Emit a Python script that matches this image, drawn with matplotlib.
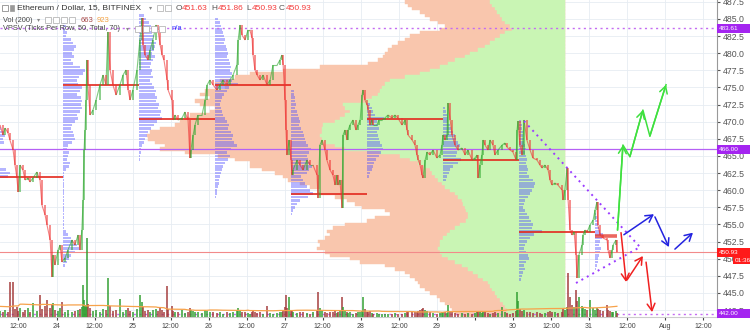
import matplotlib
matplotlib.use('Agg')
import matplotlib.pyplot as plt
import numpy as np
import pandas as pd
from matplotlib.patches import Rectangle
from matplotlib.collections import LineCollection

plt.rcParams['font.family'] = ['Liberation Sans', 'DejaVu Sans']

# ---------------- data (x = hours since 23 Jul 00:00) ----------------
bar_hours = [
    6.2, 7.1, 7.8, 8.7, 9.3, 10.3, 10.9, 11.5, 11.9, 12.5,
    13.4, 14.1, 15.0, 15.6, 16.6, 17.8, 18.8, 19.4, 20.4, 21.0,
    22.0, 22.6, 22.9, 23.5, 24.5, 25.1, 25.7, 26.7, 27.6, 28.9,
    29.8, 30.8, 31.4, 32.0, 32.4, 32.7, 33.0, 33.3, 33.6, 33.9,
    34.6, 35.5, 36.5, 37.7, 38.7, 39.6, 40.2, 40.9, 41.8, 42.8,
    44.0, 45.0, 45.9, 46.6, 47.2, 48.1, 49.4, 50.3, 51.0, 51.3,
    51.9, 52.9, 53.5, 54.4, 55.4, 56.0, 56.7, 57.3, 57.9, 58.9,
    59.2, 60.4, 60.8, 61.4, 62.3, 63.6, 64.5, 65.5, 66.1, 66.4,
    67.1, 67.7, 68.6, 69.9, 70.9, 71.5, 72.4, 73.4, 74.6, 75.6,
    76.5, 77.8, 78.7, 79.7, 80.9, 81.3, 81.9, 82.5, 83.5, 84.4,
    85.0, 85.7, 86.0, 86.6, 87.3, 88.2, 89.2, 90.4, 91.4, 92.3,
    93.6, 94.5, 95.1, 95.5, 96.1, 96.4, 96.7, 97.4, 98.0, 98.3,
    98.6, 99.9, 100.8, 101.8, 103.0, 104.0, 104.9, 106.2, 106.5, 107.1,
    107.8, 108.7, 109.3, 110.3, 111.2, 111.9, 112.5, 112.8, 113.4, 114.1,
    114.4, 115.0, 115.7, 116.0, 116.6, 117.5, 118.5, 119.1, 119.8, 120.4,
    120.7, 121.3, 122.0, 122.3, 122.9, 123.5, 123.9, 125.1, 125.7, 126.7,
    127.6, 128.6, 129.8, 130.8, 131.7, 133.0, 134.0, 134.6, 134.9, 136.2,
    137.1, 137.7, 138.1, 138.7, 139.3, 139.6, 140.3, 140.9, 141.8, 142.8,
    144.0, 145.0, 145.6, 145.9, 146.6, 147.2, 147.5, 148.2, 148.8, 149.7,
    150.7, 151.9, 152.9, 153.8, 155.1, 156.0, 156.7, 157.0, 157.6, 158.2,
    158.6, 159.2, 160.1, 160.8, 161.7, 162.3, 163.3, 164.6, 165.5, 166.1,
    167.1, 168.0, 169.0, 169.3, 169.6, 170.2, 170.9, 171.5, 172.4, 173.4,
    174.3, 175.6, 176.5, 177.2, 178.1, 179.1, 179.7, 180.3, 181.3, 182.2,
    183.5, 183.8, 184.4, 185.1, 185.4, 186.0, 186.6, 187.3, 187.9, 188.2,
    188.8, 189.8, 190.1, 190.7, 191.4, 192.3, 193.3, 193.9, 194.5, 194.8,
    195.5, 196.4, 197.7, 198.0, 198.6, 199.3, 199.6, 200.5, 200.8,
]
closes = [
    469.52, 468.06, 469.08, 468.35, 467.33, 465.87, 463.68, 461.78, 459.74, 463.68,
    462.95, 461.49, 461.78, 461.20, 461.78, 462.66, 461.49, 457.84, 456.38, 454.92,
    452.73, 447.33, 450.54, 449.08, 451.27, 452.00, 449.52, 450.10, 451.27, 452.73,
    452.00, 453.46, 451.27, 454.19, 458.57, 465.87, 468.79, 473.17, 479.01, 475.36,
    470.98, 471.71, 473.17, 475.36, 476.82, 475.36, 483.10, 477.55, 475.36, 473.90,
    475.36, 476.82, 477.55, 474.63, 473.17, 474.63, 477.55, 481.93, 485.14, 481.20,
    479.74, 479.01, 480.47, 481.93, 484.12, 483.39, 481.20, 479.74, 479.01, 476.09,
    474.63, 473.17, 470.25, 470.98, 470.25, 470.54, 471.42, 470.25, 464.70, 465.87,
    468.06, 469.52, 470.98, 470.98, 473.17, 475.36, 476.09, 475.36, 474.63, 475.36,
    476.09, 475.36, 476.09, 476.82, 478.28, 481.93, 484.12, 482.66, 481.93, 483.39,
    483.39, 482.22, 479.74, 477.55, 476.82, 476.09, 476.82, 475.36, 476.09, 478.28,
    478.28, 479.01, 479.74, 478.28, 473.17, 468.79, 465.14, 467.33, 464.41, 462.22,
    462.95, 464.41, 463.68, 462.95, 464.41, 463.68, 463.68, 462.22, 458.86, 466.60,
    467.33, 465.87, 464.41, 462.95, 462.22, 460.76, 462.22, 460.76, 461.49, 457.40,
    468.06, 468.79, 467.33, 468.79, 469.52, 470.25, 468.79, 469.52, 470.25, 473.90,
    474.63, 473.17, 472.44, 471.71, 469.52, 470.25, 469.52, 469.52, 470.25, 470.25,
    470.54, 470.98, 470.54, 470.98, 470.54, 469.52, 470.25, 468.79, 468.06, 467.33,
    466.60, 465.14, 464.41, 463.68, 462.22, 461.78, 464.41, 465.58, 465.14, 465.87,
    464.70, 465.14, 466.60, 468.06, 467.33, 468.06, 472.73, 470.25, 468.06, 466.60,
    465.87, 466.16, 465.14, 465.87, 464.41, 464.70, 465.14, 461.78, 463.68, 465.14,
    467.33, 466.60, 465.87, 467.33, 466.60, 465.14, 465.87, 466.60, 466.89, 466.30,
    465.87, 465.58, 464.41, 468.79, 470.10, 466.60, 465.14, 470.25, 467.33, 465.87,
    464.70, 464.41, 463.68, 463.24, 463.68, 462.95, 461.49, 460.76, 461.05, 460.76,
    460.03, 458.57, 460.03, 463.24, 458.57, 454.19, 453.46, 453.90, 450.54, 447.18,
    450.54, 452.00, 453.46, 454.19, 453.90, 454.92, 455.65, 457.11, 458.28, 454.92,
    453.46, 453.02, 452.73, 451.27, 450.10, 451.27, 452.00, 452.73, 450.93,
]
volumes = [
    900, 700, 1100, 800, 5250, 5250, 1200, 1500, 900, 1300,
    800, 1000, 1350, 700, 2100, 900, 3300, 1200, 1600, 2550,
    1400, 1800, 2100, 1100, 900, 1300, 2250, 800, 1000, 700,
    900, 1100, 1200, 1500, 4800, 2500, 1800, 1600, 11850, 2000,
    1300, 900, 1100, 800, 1200, 1000, 5850, 1700, 900, 1100,
    2700, 800, 1000, 1300, 900, 700, 1200, 3300, 2200, 1500,
    900, 1000, 800, 1100, 1200, 900, 1300, 1000, 800, 4650,
    1200, 1650, 900, 800, 700, 1000, 600, 800, 1400, 1100,
    900, 700, 800, 600, 1000, 900, 700, 800, 600, 700,
    500, 800, 600, 700, 900, 1350, 1100, 800, 700, 600,
    500, 700, 900, 800, 600, 700, 500, 1650, 600, 500,
    600, 700, 800, 900, 1500, 3300, 1400, 3000, 1000, 900,
    700, 600, 800, 700, 600, 500, 700, 900, 3750, 1400,
    1000, 700, 600, 800, 700, 900, 600, 800, 900, 3000,
    1500, 900, 700, 600, 700, 500, 600, 700, 800, 900,
    3000, 1200, 800, 700, 900, 600, 500, 600, 500, 400,
    500, 400, 500, 600, 400, 500, 600, 700, 800, 900,
    700, 800, 900, 1000, 1200, 1300, 1100, 900, 700, 600,
    500, 600, 700, 800, 700, 600, 1800, 900, 700, 600,
    500, 600, 500, 600, 500, 600, 700, 900, 700, 600,
    800, 700, 600, 500, 600, 700, 600, 1500, 700, 600,
    500, 600, 900, 3750, 2400, 1200, 900, 1100, 800, 700,
    600, 700, 600, 500, 600, 700, 900, 800, 700, 600,
    800, 1200, 1000, 1500, 6600, 3000, 1800, 1500, 4050, 2400,
    3000, 1700, 1400, 1200, 1000, 2550, 1300, 1100, 1400, 1200,
    1000, 900, 1800, 1100, 900, 800, 700, 900, 663,
]

# visible range volume profile: rows of 0.5 from 487.5 down to 441.5
vp_total = [
    160, 157, 153, 145, 140, 135, 127, 120, 125, 145,
    155, 160, 167, 173, 177, 180, 182, 187, 197, 245,
    282, 315, 330, 345, 350, 340, 360, 365, 355, 370,
    365, 350, 355, 375, 380, 385, 390, 405, 415, 418,
    417, 410, 400, 405, 380, 347, 330, 315, 315, 303,
    290, 282, 277, 265, 255, 245, 247, 230, 218, 210,
    203, 180, 175, 190, 198, 220, 232, 238, 235, 240,
    247, 245, 248, 240, 235, 215, 205, 180, 170, 160,
    155, 150, 147, 145, 140, 135, 128, 125, 120, 115,
    113, 110, 105,
]
vp_up = [
    75, 73, 70, 68, 65, 63, 60, 55, 53, 60,
    65, 70, 75, 80, 87, 95, 100, 110, 117, 125,
    135, 145, 160, 175, 180, 183, 185, 187, 193, 200,
    222, 220, 215, 220, 225, 230, 242, 243, 243, 245,
    243, 240, 230, 220, 185, 165, 155, 147, 140, 135,
    133, 130, 127, 123, 120, 115, 110, 107, 103, 102,
    100, 99, 97, 97, 99, 105, 110, 115, 118, 122,
    125, 125, 127, 125, 123, 117, 110, 103, 97, 92,
    87, 82, 77, 75, 73, 70, 68, 65, 62, 60,
    58, 57, 55,
]
vp_anchor = 184.4

# session volume profiles (VPSV), rows of 0.5 from the top price downwards
sess_starts = [2, 26, 50, 74, 98, 122, 146, 170, 194]
sess_tops = [474.5, 484.5, 485.5, 485.0, 474.5, 472.5, 472.0, 470.0, 456.5]
sess_poc = [461.9, 475.4, 470.4, 475.4, 459.4, 470.4, 464.4, 453.9, 453.3]
sess_a = [3, 5, 7, 8, 6, 8, 10, 9, 11, 12, 10, 14, 17, 18, 16, 17, 12, 10, 9, 11,
          12, 10, 11, 19, 23, 21, 8, 5, 3, 2]
sess_b = [2, 3, 2, 4, 3, 8, 10, 13, 11, 9, 11, 8, 10, 17, 22, 20, 16, 14, 15, 19,
          17, 14, 18, 19, 18, 19, 17, 14, 15, 12, 9, 8, 10, 11, 12, 9, 5, 4, 6, 5,
          4, 7, 6, 3, 1, 1, 1, 1, 1, 1, 1, 1, 1, 1, 1, 1, 1, 1, 1, 1,
          1, 3, 5, 8, 10, 14, 16, 12, 8, 6, 4, 2]
sess_c = [5, 7, 10, 12, 11, 13, 15, 14, 17, 16, 15, 13, 16, 14, 12, 11, 13, 12, 14, 11,
          13, 15, 17, 16, 18, 17, 20, 19, 22, 21, 23, 18, 15, 12, 9, 8, 6, 5, 3, 2,
          2, 1, 1]
sess_d = [3, 5, 6, 7, 8, 9, 10, 9, 11, 12, 13, 12, 14, 15, 16, 15, 17, 16, 17, 23,
          14, 12, 9, 7, 6, 5, 6, 7, 8, 10, 12, 14, 13, 16, 18, 17, 19, 22, 16, 12,
          15, 13, 10, 8, 7, 6, 5, 4, 4, 3, 2, 2, 1]
sess_e = [3, 3, 4, 4, 5, 4, 6, 7, 8, 9, 8, 10, 12, 13, 14, 15, 17, 20, 18, 16,
          17, 19, 21, 18, 16, 10, 12, 14, 16, 19, 22, 17, 9, 6, 4, 2, 1]
sess_f = [3, 5, 6, 8, 17, 10, 11, 12, 10, 11, 12, 13, 15, 16, 14, 12, 9, 7, 6, 5, 3, 2]
sess_g = [2, 3, 4, 5, 5, 7, 8, 10, 12, 13, 15, 17, 16, 14, 13, 18, 15, 10, 7, 6, 4, 3]
sess_h = [2, 3, 3, 4, 4, 5, 5, 6, 7, 6, 7, 8, 7, 8, 9, 8, 10, 14, 16, 15,
          13, 11, 9, 6, 5, 4, 6, 8, 10, 12, 14, 13, 23, 15, 11, 8, 6, 5, 7, 9,
          10, 7, 5, 6, 4, 3, 2]
sess_i = [1, 2, 3, 3, 4, 5, 8, 7, 5, 4, 6, 5, 4, 3, 3, 2, 1]
sess_widths = [sess_a, sess_b, sess_c, sess_d, sess_e, sess_f, sess_g, sess_h, sess_i]

# drawings
tri_upper_h = [171.5, 208.1]
tri_upper_p = [470.1, 451.7]
tri_lower_h = [187.9, 208.1]
tri_lower_p = [446.45, 451.7]
green_h = [201.0, 202.7, 204.9, 209.0, 211.2, 216.3]
green_p = [454.2, 466.6, 464.9, 471.7, 467.9, 475.4]
blue_arrows = [((203.0, 453.5), (212.5, 456.5)),
               ((212.8, 456.1), (217.2, 451.7)),
               ((219.1, 451.4), (224.8, 453.8))]
red_arrows = [((202.1, 453.8), (203.7, 446.6)),
              ((204.0, 446.9), (209.0, 450.4)),
              ((210.0, 449.5), (211.9, 442.2))]

tick_hours = [12, 24, 36, 48, 60, 72, 84, 96, 108, 120, 132, 144, 156, 168, 180,
              192, 204, 216, 228]
tick_labels = ['12:00', '24', '12:00', '25', '12:00', '26', '12:00', '27', '12:00',
               '28', '12:00', '29', '', '30', '12:00', '31', '12:00', 'Aug', '12:00']
price_ticks = [442.5, 445.0, 447.5, 450.0, 452.5, 455.0, 457.5, 460.0, 462.5, 465.0,
               467.5, 470.0, 472.5, 475.0, 477.5, 480.0, 482.5, 485.0, 487.5]

last_price = 450.93
# ----------------------------------------------------------------------

W, H = 750, 331
fig = plt.figure(figsize=(7.5, 3.31), dpi=100)
ax = fig.add_axes([0, (H - 317) / H, 717 / W, 317 / H])
# volume pane shares the time axis (created first, twinx moves ticks left)
axv = ax.twinx()
ax.set_xlim(6.17, 232.38)
ax.set_ylim(441.49, 487.77)

scale = 0.3155  # hours per volume unit of the profiles

# visible range profile
rows = np.arange(487.5, 441.4, -0.5)
ax.barh(rows, -np.array(vp_total) * scale, left=vp_anchor, height=0.5,
        color='#f9c6ad', edgecolor='#f9c6ad', lw=0.3, zorder=1)
ax.barh(rows, -np.array(vp_up) * scale, left=vp_anchor, height=0.5,
        color='#c9f5b4', edgecolor='#c9f5b4', lw=0.3, zorder=1.1)

# session profiles + POC lines
sess_ends = sess_starts[1:] + [bar_hours[-1]]
for start, top, widths in zip(sess_starts, sess_tops, sess_widths):
    prices = top - 0.5 * np.arange(len(widths))
    ax.barh(prices, np.array(widths) * scale, left=start, height=0.38,
            color='#4f4fff', alpha=0.42, lw=0, zorder=2)
ax.hlines(sess_poc[:-1], sess_starts[:-1], sess_ends[:-1], color='#e3281d', lw=1.2, zorder=3)
ax.hlines(sess_poc[-1], sess_starts[-1], sess_ends[-1], color='#e3281d', lw=2.6,
          alpha=0.7, zorder=3)

# horizontal levels
ax.axhline(483.61, color='#c46cf2', lw=1, ls=(0, (1.5, 2.5)), zorder=3)
ax.axhline(466.00, color='#b560f5', lw=0.9, zorder=3)
ax.axhline(442.00, color='#c46cf2', lw=1, ls=(0, (1.5, 2.5)), zorder=3)
ax.axhline(last_price, color='#f28a8a', lw=0.8, zorder=3)

# candles (open = previous close)
t = np.array(bar_hours)
c = np.array(closes)
o = np.concatenate([[c[0]], c[:-1]])
up = c >= o
cols = np.where(up, '#2ea82e', '#ee3030')
segs = [[(t[i - 1], c[i - 1]), (t[i], c[i])] for i in range(1, len(t))]
ax.add_collection(LineCollection(segs, colors=cols[1:], lw=0.8, alpha=0.6, zorder=4))
ax.vlines(t, o, c, colors=cols, lw=1.1, alpha=0.7, zorder=4)

# triangle
ax.plot(tri_upper_h, tri_upper_p, color='#9b3cff', lw=1.4, ls=(0, (1, 2.2)), zorder=5)
ax.plot(tri_lower_h, tri_lower_p, color='#9b3cff', lw=1.4, ls=(0, (1, 2.2)), zorder=5)


def arrow(p0, p1, col):
    ax.annotate('', xy=p1, xytext=p0, zorder=6,
                arrowprops=dict(arrowstyle='->,head_length=0.5,head_width=0.28',
                                color=col, lw=1.1, shrinkA=0, shrinkB=0))


ax.plot(green_h, green_p, color='#3fe03f', lw=1.1, zorder=6)
for i in (0, 2, 4):
    arrow((green_h[i], green_p[i]), (green_h[i + 1], green_p[i + 1]), '#3fe03f')
for a, b in blue_arrows:
    arrow(a, b, '#2323e0')
for a, b in red_arrows:
    arrow(a, b, '#f02020')

# axes styling
ax.set_xticks(tick_hours)
ax.set_xticklabels(tick_labels)
ax.set_yticks(price_ticks)
ax.set_yticklabels(['%.1f' % p for p in price_ticks])
ax.yaxis.tick_right()
ax.tick_params(axis='x', labelsize=5, colors='#444', length=2, pad=2)
ax.tick_params(axis='y', labelsize=6.3, colors='#555', length=2, pad=2,
               left=False, labelleft=False, right=True, labelright=True)
ax.grid(True, color='#e7ecf2', lw=0.6)
ax.set_axisbelow(True)
for s in ('left', 'top'):
    ax.spines[s].set_visible(False)
ax.spines['right'].set_color('#999')
ax.spines['bottom'].set_color('#ccc')

# price labels on the scale
ytr = ax.get_yaxis_transform()


def scale_label(price, text, fc, x0=0.0, w=33, dy=0.0, h=1.3):
    ax.add_patch(Rectangle((1 + x0 / 717, price - h / 2 + dy), w / 717, h, transform=ytr,
                           fc=fc, ec='none', clip_on=False, zorder=20))
    ax.text(1 + (x0 + 2) / 717, price + dy, text, transform=ytr, fontsize=4.6,
            color='white', va='center', ha='left', clip_on=False, zorder=21)


scale_label(483.61, '483.61', '#a425f0')
scale_label(466.00, '466.00', '#a425f0')
scale_label(442.00, '442.00', '#a425f0')
scale_label(last_price, '450.93', '#ff1a1a')
scale_label(last_price, '01:36', '#ff1a1a', x0=16, w=17, dy=-1.25, h=1.0)

# volume bars + moving average
axv.set_ylim(0, 317 * 150)
axv.axis('off')
vcol = np.where(up, '#2f9e2f', '#a33a3a')
axv.bar(t, volumes, width=0.45, color=vcol, alpha=0.75, lw=0)
vol_ma = pd.Series(volumes).rolling(60, min_periods=1, center=True).mean()
axv.plot(t, vol_ma, color='#f7a24a', lw=0.9)


# legend / header texts
def ftxt(x, y, s, col, fs):
    fig.text(x / W, 1 - y / H, s, color=col, fontsize=fs, ha='left', va='center')


def icon(x, y, w=6, h=6, fc='white', ec='#aaa'):
    fig.add_artist(Rectangle((x / W, 1 - (y + h / 2) / H), w / W, h / H,
                             transform=fig.transFigure, fc=fc, ec=ec, lw=0.5))


icon(2, 8, 6, 6, 'white', '#777')
icon(10, 8, 4, 6, '#999', '#999')
ftxt(17, 8, 'Ethereum / Dollar, 15, BITFINEX', '#333', 6.1)
ftxt(149, 8, '\u25be', '#888', 4.5)
icon(157, 8)
icon(165, 8)
ftxt(176, 8, 'O', '#555', 6)
ftxt(182, 8, '451.63', '#f43b3b', 6)
ftxt(211, 8, 'H', '#555', 6)
ftxt(218, 8, '451.86', '#f43b3b', 6)
ftxt(246, 8, 'L', '#555', 6)
ftxt(252, 8, '450.93', '#f43b3b', 6)
ftxt(279, 8, 'C', '#555', 6)
ftxt(286, 8, '450.93', '#f43b3b', 6)

ftxt(3, 20, 'Vol (200)', '#444', 5.3)
ftxt(37, 20, '\u25be', '#888', 4.5)
for x in (45, 53, 61, 69):
    icon(x, 20)
ftxt(81, 20, '663', '#a84a4a', 5.5)
ftxt(97, 20, '923', '#f5a445', 5.5)

ftxt(3, 29, 'VPSV (Ticks Per Row, 50, Total, 70)', '#444', 5.3)
ftxt(126, 29, '\u25be', '#888', 4.5)
for x in (135, 143, 151, 159):
    icon(x, 29)
ftxt(172, 29, 'n/a', '#3535ff', 5.5)

fig.savefig('out.png', dpi=100)
